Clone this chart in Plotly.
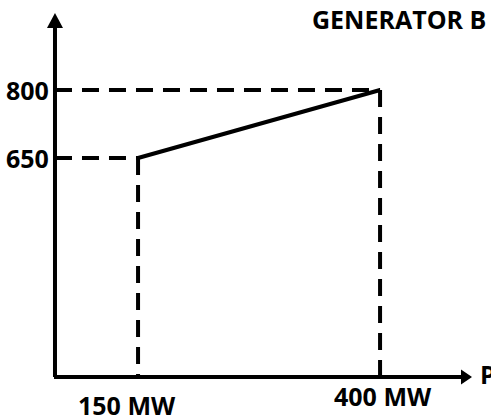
import plotly.graph_objects as go

# Data
power_mw = [150, 400]          # generator limits (MW)
cost_values = [650, 800]        # values at limits
x_tick_labels = ["150 MW", "400 MW"]
y_tick_labels = ["650", "800"]
title_text = "GENERATOR B"
x_axis_label = "P"

# Layout constants (axis frame)
X_RANGE = [7.4, 514.6]
Y_RANGE = [76.5, 998.5]
X_ORIGIN = 64.2
Y_ORIGIN = 166.8
X_TIP = 495.0
Y_TIP = 969.8

FONT = dict(family="Open Sans, Arial, sans-serif", size=25, color="black", weight="bold")
DASH = "17px,10px"
LW = 4

fig = go.Figure()

# dashed guides
for xv, yv in zip(power_mw, cost_values):
    fig.add_trace(go.Scatter(x=[X_ORIGIN, xv], y=[yv, yv], mode="lines",
                             line=dict(color="black", width=LW, dash=DASH),
                             hoverinfo="skip", showlegend=False))
    fig.add_trace(go.Scatter(x=[xv, xv], y=[yv, Y_ORIGIN], mode="lines",
                             line=dict(color="black", width=LW, dash=DASH),
                             hoverinfo="skip", showlegend=False))

# solid characteristic
fig.add_trace(go.Scatter(x=power_mw, y=cost_values, mode="lines",
                         line=dict(color="black", width=LW),
                         hoverinfo="skip", showlegend=False))

shapes = [
    # y axis
    dict(type="line", x0=X_ORIGIN, x1=X_ORIGIN, y0=Y_ORIGIN, y1=Y_TIP - 20,
         line=dict(color="black", width=4), layer="above"),
    # x axis
    dict(type="line", x0=X_ORIGIN - 1, x1=X_TIP - 8, y0=Y_ORIGIN, y1=Y_ORIGIN,
         line=dict(color="black", width=4), layer="above"),
    # arrowheads
    dict(type="path", xsizemode="pixel", ysizemode="pixel", xanchor=X_ORIGIN, yanchor=Y_TIP,
         path="M -8 -15 L 8 -15 L 0 0 Z", fillcolor="black", line=dict(width=0), layer="above"),
    dict(type="path", xsizemode="pixel", ysizemode="pixel", xanchor=X_TIP, yanchor=Y_ORIGIN,
         path="M 0 0 L -11 7.5 L -11 -7.5 Z", fillcolor="black", line=dict(width=0), layer="above"),
]

annotations = []
for yv, lab in zip(cost_values, y_tick_labels):
    annotations.append(dict(x=X_ORIGIN, y=yv, text=lab, showarrow=False,
                            xanchor="right", yanchor="middle", xshift=-4, font=FONT))
label_shift = [(-11, -28), (3, -19)]
for xv, lab, (dx, dy) in zip(power_mw, x_tick_labels, label_shift):
    annotations.append(dict(x=xv, y=Y_ORIGIN, text=lab, showarrow=False,
                            xanchor="center", yanchor="middle", xshift=dx, yshift=dy, font=FONT))
annotations.append(dict(x=X_TIP, y=Y_ORIGIN, text=x_axis_label, showarrow=False,
                        xanchor="left", yanchor="middle", xshift=6, yshift=3, font=FONT))
annotations.append(dict(xref="paper", yref="paper", x=488 / 491, y=1 - 19 / 418,
                        text=title_text, showarrow=False, xanchor="right", yanchor="middle",
                        font=FONT))

fig.update_layout(
    width=491, height=418,
    margin=dict(l=0, r=0, t=0, b=0),
    paper_bgcolor="white", plot_bgcolor="white",
    xaxis=dict(range=X_RANGE, visible=False, fixedrange=True),
    yaxis=dict(range=Y_RANGE, visible=False, fixedrange=True),
    shapes=shapes, annotations=annotations, showlegend=False,
)

fig.write_html("out.html", config={"displayModeBar": False})

# remove default page margin so the figure sits at the window's top-left corner
with open("out.html", "r", encoding="utf-8") as f:
    html = f.read()
html = html.replace("<head>", "<head><style>html,body{margin:0;padding:0;overflow:hidden;}</style>", 1)
with open("out.html", "w", encoding="utf-8") as f:
    f.write(html)
